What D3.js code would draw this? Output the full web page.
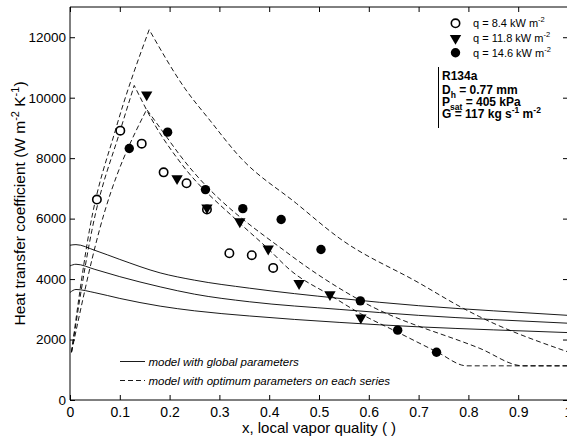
<!DOCTYPE html>
<html>
<head>
<meta charset="utf-8">
<script src="https://cdn.jsdelivr.net/npm/d3@7"></script>
<style>
  html, body { margin: 0; padding: 0; background: #fff; }
  svg { display: block; font-family: Arial, "Liberation Sans", Helvetica, sans-serif; }
</style>
</head>
<body>
<svg id="chart" width="567" height="440"></svg>
<script>
// ---- measured series (x = vapor quality, h = W m^-2 K^-1) ----
const seriesNames = ["q = 8.4 kW m", "q = 11.8 kW m", "q = 14.6 kW m"];

const q84_x = [0.054, 0.101, 0.144, 0.188, 0.234, 0.275, 0.320, 0.365, 0.408];
const q84_h = [6630, 8910, 8480, 7530, 7170, 6300, 4855, 4790, 4370];

const q118_x = [0.154, 0.215, 0.275, 0.341, 0.398, 0.460, 0.522, 0.584];
const q118_h = [10100, 7330, 6360, 5900, 5000, 3860, 3490, 2720];

const q146_x = [0.119, 0.196, 0.272, 0.347, 0.424, 0.504, 0.583, 0.658, 0.736];
const q146_h = [8320, 8860, 6960, 6330, 5970, 4980, 3280, 2310, 1580];

// ---- model with global parameters (solid) ----
const globalX = [0, 0.012, 0.05, 0.10, 0.181, 0.25, 0.36, 0.542, 0.70, 0.85, 1.0];
const global1 = [5120, 5140, 4950, 4650, 4205, 3964, 3700, 3360, 3120, 2950, 2800];
const global2 = [4436, 4490, 4320, 4080, 3743, 3501, 3250, 2996, 2800, 2660, 2540];
const global3 = [3557, 3656, 3550, 3360, 3105, 2950, 2780, 2566, 2420, 2320, 2230];

// ---- model with optimum parameters on each series (dashed) ----
// rising branch and falling branch for each fit
const optA_rise_x = [0.003, 0.039, 0.092, 0.159];
const optA_rise_h = [1580, 5615, 8970, 12250];
const optA_fall_x = [0.159, 0.231, 0.281, 0.341, 0.455, 0.542, 0.70, 0.79, 0.823, 1.0];
const optA_fall_h = [12250, 10300, 9250, 8040, 6497, 5340, 3880, 3029, 2751, 1590];

const optB_rise_x = [0.003, 0.044, 0.102, 0.129];
const optB_rise_h = [1580, 5615, 8974, 10405];
const optB_fall_x = [0.129, 0.171, 0.221, 0.341, 0.398, 0.442, 0.524, 0.584, 0.657, 0.736, 0.797, 1.0];
const optB_fall_h = [10405, 9083, 7871, 5850, 5000, 4300, 3450, 2850, 2250, 1600, 1130, 1130];

const optC_rise_x = [0.003, 0.059, 0.154];
const optC_rise_h = [1580, 5615, 9612];
const optC_fall_x = [0.154, 0.187, 0.221, 0.442, 0.582, 0.823, 0.91, 1.0];
const optC_fall_h = [9612, 8862, 8092, 4800, 3300, 1707, 1130, 1130];

// ---- axes ----
const xTicks = [0, 0.1, 0.2, 0.3, 0.4, 0.5, 0.6, 0.7, 0.8, 0.9, 1];
const xTickLabels = ["0", "0.1", "0.2", "0.3", "0.4", "0.5", "0.6", "0.7", "0.8", "0.9", "1"];
const yTicks = [0, 2000, 4000, 6000, 8000, 10000, 12000];
const yTickLabels = ["0", "2000", "4000", "6000", "8000", "10000", "12000"];

const svg = d3.select("#chart");
const L = 70, R = 568, T = 7, B = 400;
const x = d3.scaleLinear().domain([0, 1]).range([L, R]);
const y = d3.scaleLinear().domain([0, 13000]).range([B, T]);

const g = svg.append("g");

// frame
g.append("line").attr("x1", L).attr("x2", L).attr("y1", T).attr("y2", B).attr("stroke", "#000");
g.append("line").attr("x1", L).attr("x2", R).attr("y1", B).attr("y2", B).attr("stroke", "#000");
g.append("line").attr("x1", L).attr("x2", R).attr("y1", T).attr("y2", T).attr("stroke", "#000");
g.append("line").attr("x1", R).attr("x2", R).attr("y1", T).attr("y2", B).attr("stroke", "#000");

// bottom axis with inward ticks
const xAxis = d3.axisBottom(x).tickValues(xTicks).tickSize(-5).tickPadding(7)
  .tickFormat((d, i) => xTickLabels[i]);
const gx = g.append("g").attr("transform", `translate(0,${B})`).call(xAxis);
gx.select(".domain").remove();
gx.selectAll("text").attr("font-size", 14).attr("font-family", "Arial, 'Liberation Sans', sans-serif").attr("fill", "#000");

// top ticks
const gxt = g.append("g").attr("transform", `translate(0,${T})`)
  .call(d3.axisTop(x).tickValues(xTicks).tickSize(-5).tickFormat(""));
gxt.select(".domain").remove();

// left axis with inward ticks
const yAxis = d3.axisLeft(y).tickValues(yTicks).tickSize(-5).tickPadding(4)
  .tickFormat((d, i) => yTickLabels[i]);
const gy = g.append("g").attr("transform", `translate(${L},0)`).call(yAxis);
gy.select(".domain").remove();
gy.selectAll("text").attr("font-size", 13.5).attr("font-family", "Arial, 'Liberation Sans', sans-serif").attr("fill", "#000");

// right ticks
const gyr = g.append("g").attr("transform", `translate(${R},0)`)
  .call(d3.axisRight(y).tickValues(yTicks).tickSize(-5).tickFormat(""));
gyr.select(".domain").remove();

// axis titles
svg.append("text")
  .attr("x", x(0.5)).attr("y", 433)
  .attr("text-anchor", "middle").attr("font-size", 15)
  .text("x, local vapor quality ( )");

const yl = svg.append("text")
  .attr("transform", `translate(25,${(T + B) / 2}) rotate(-90)`)
  .attr("text-anchor", "middle").attr("font-size", 15.5);
yl.append("tspan").text("Heat transfer coefficient (W m");
yl.append("tspan").attr("dy", -6).attr("font-size", 11).text("-2");
yl.append("tspan").attr("dy", 6).text(" K");
yl.append("tspan").attr("dy", -6).attr("font-size", 11).text("-1");
yl.append("tspan").attr("dy", 6).text(")");

// curves
const plot = svg.append("g");
const smooth = d3.line().x(d => x(d[0])).y(d => y(d[1])).curve(d3.curveMonotoneX);
const zip = (xs, hs) => xs.map((v, i) => [v, hs[i]]);

[global1, global2, global3].forEach(hs => {
  plot.append("path")
    .attr("d", smooth(zip(globalX, hs)))
    .attr("fill", "none").attr("stroke", "#000").attr("stroke-width", 0.9);
});

function fitPath(rx, rh, fx, fh) {
  const a = smooth(zip(rx, rh));
  const b = smooth(zip(fx, fh)).replace(/^M/, "L");
  return a + b;
}
[
  [optA_rise_x, optA_rise_h, optA_fall_x, optA_fall_h],
  [optB_rise_x, optB_rise_h, optB_fall_x, optB_fall_h],
  [optC_rise_x, optC_rise_h, optC_fall_x, optC_fall_h]
].forEach(s => {
  plot.append("path")
    .attr("d", fitPath(...s))
    .attr("fill", "none").attr("stroke", "#000").attr("stroke-width", 0.9)
    .attr("stroke-dasharray", "5,3");
});

// markers
const tri = d3.symbol().type(d3.symbolTriangle).size(56);
plot.selectAll(".c84").data(zip(q84_x, q84_h)).join("circle")
  .attr("cx", d => x(d[0])).attr("cy", d => y(d[1])).attr("r", 4.2)
  .attr("fill", "#fff").attr("stroke", "#000").attr("stroke-width", 1.6);
plot.selectAll(".t118").data(zip(q118_x, q118_h)).join("path")
  .attr("d", tri)
  .attr("transform", d => `translate(${x(d[0])},${y(d[1])}) rotate(180)`)
  .attr("fill", "#000");
plot.selectAll(".c146").data(zip(q146_x, q146_h)).join("circle")
  .attr("cx", d => x(d[0])).attr("cy", d => y(d[1])).attr("r", 4.7)
  .attr("fill", "#000");

// legend: series
const leg = svg.append("g").attr("font-size", 11);
const legY = [23.3, 38.3, 52.7];
leg.append("circle").attr("cx", 455.5).attr("cy", legY[0]).attr("r", 4.2)
  .attr("fill", "#fff").attr("stroke", "#000").attr("stroke-width", 1.6);
leg.append("path").attr("d", tri).attr("transform", `translate(455.5,${legY[1]}) rotate(180)`).attr("fill", "#000");
leg.append("circle").attr("cx", 455.5).attr("cy", legY[2]).attr("r", 4.7).attr("fill", "#000");
seriesNames.forEach((s, i) => {
  const t = leg.append("text").attr("x", 473).attr("y", legY[i] + 4);
  t.append("tspan").text(s);
  t.append("tspan").attr("dy", -5).attr("font-size", 7.5).text("-2");
});

// legend: conditions
const cond = svg.append("g").attr("font-size", 12).attr("font-weight", "bold");
cond.append("line").attr("x1", 438.5).attr("x2", 438.5).attr("y1", 67).attr("y2", 128).attr("stroke", "#000");
cond.append("text").attr("x", 442).attr("y", 80).text("R134a");
let t = cond.append("text").attr("x", 442).attr("y", 93.5);
t.append("tspan").text("D");
t.append("tspan").attr("dy", 4).attr("font-size", 8.5).text("h");
t.append("tspan").attr("dy", -4).text(" = 0.77 mm");
t = cond.append("text").attr("x", 442).attr("y", 106);
t.append("tspan").text("P");
t.append("tspan").attr("dy", 4).attr("font-size", 8.5).text("sat");
t.append("tspan").attr("dy", -4).text(" = 405 kPa");
t = cond.append("text").attr("x", 442).attr("y", 117.5);
t.append("tspan").text("G = 117 kg s");
t.append("tspan").attr("dy", -5).attr("font-size", 8.5).text("-1");
t.append("tspan").attr("dy", 5).text(" m");
t.append("tspan").attr("dy", -5).attr("font-size", 8.5).text("-2");

// legend: models
const ml = svg.append("g").attr("font-size", 11.5).attr("font-style", "italic");
ml.append("line").attr("x1", 120).attr("x2", 145).attr("y1", 361.5).attr("y2", 361.5).attr("stroke", "#000").attr("stroke-width", 0.9);
ml.append("line").attr("x1", 120).attr("x2", 145).attr("y1", 380.5).attr("y2", 380.5).attr("stroke", "#000").attr("stroke-width", 0.9).attr("stroke-dasharray", "5,3");
ml.append("text").attr("x", 148.5).attr("y", 365.5).text("model with global parameters");
ml.append("text").attr("x", 148.5).attr("y", 384.5).text("model with optimum parameters on each series");
</script>
</body>
</html>
